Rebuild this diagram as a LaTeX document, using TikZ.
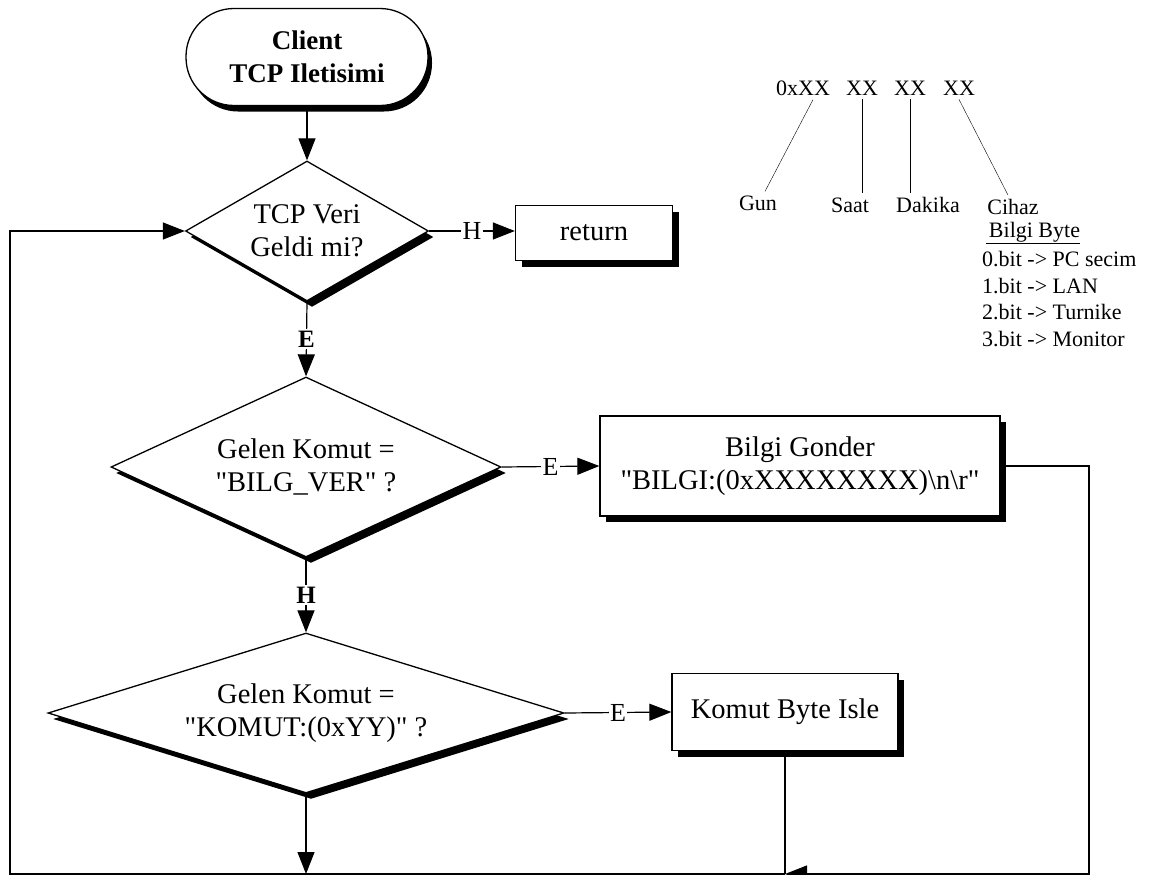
\documentclass[tikz,border=0pt]{standalone}
\usepackage{fontspec}
\setmainfont{Liberation Serif}[Ligatures=TeXOff]
\usetikzlibrary{positioning, calc}
\usetikzlibrary{shapes.geometric, shadows, arrows.meta}

\begin{document}
\begin{tikzpicture}[x=1pt, y=-1pt,
		every node/.style={font=\fontsize{28.5}{33}\selectfont},
		golge/.style={drop shadow={shadow xshift=#1, shadow yshift=-6pt, fill=black, opacity=1}},
		basla/.style={draw, fill=white, line width=1.3pt, rounded corners=48pt, align=center,
			minimum width=242pt, minimum height=97pt, golge=4pt,
			font=\bfseries\fontsize{27}{33}\selectfont},
		kutu/.style={draw, fill=white, line width=1.3pt, align=center, inner sep=0pt, golge=6pt},
		karar/.style={draw, fill=white, diamond, line width=1.3pt, align=center, inner sep=0pt, golge=5pt},
		ok/.style={-{Triangle[length=22pt, width=17pt]}, line width=1.2pt},
		etiket/.style={fill=white, inner sep=1.5pt, font=\fontsize{26}{26}\selectfont},
		kalin etiket/.style={etiket, font=\bfseries\fontsize{25}{25}\selectfont},
		aciklama/.style={inner sep=4pt, font=\fontsize{22}{26.7}\selectfont}]
			\useasboundingbox (0,0) rectangle (1151,875);
			\node (basla) [basla] at (307,57) {Client\\TCP Iletisimi};
			\node (k1) [karar, minimum width=243pt, minimum height=140pt, aspect=1.74] at (307,231) {TCP Veri\\Geldi mi?};
			\node (don) [kutu, minimum width=157pt, minimum height=55pt] at (594,233) {return};
			\node (k2) [karar, minimum width=390pt, minimum height=180pt, aspect=2.17] at (306,467) {Gelen Komut =\\"BILG\_VER" ?};
			\node (bilgi) [kutu, minimum width=400pt, minimum height=100pt] at (800,466) {Bilgi Gonder\\"BILGI:(0xXXXXXXXX)\textbackslash n\textbackslash r"};
			\node (k3) [karar, minimum width=516pt, minimum height=160pt, aspect=3.2] at (306,713) {Gelen Komut =\\"KOMUT:(0xYY)" ?};
			\node (komut) [kutu, minimum width=226pt, minimum height=77pt] at (785,712) {Komut Byte Isle};
			\coordinate (sol) at (10,874);
			\coordinate (sag) at (1089,874);

			\draw [ok] (basla) -- (k1);
			\draw [ok] (k1.east) -- node [etiket] {H} (k1.east -| don.west);
			\draw [ok] (k1.south) -- node [kalin etiket] {E} (k2.north);
			\draw [ok] (k2.east) -- node [etiket] {E} (bilgi.west);
			\draw [ok] (k2.south) -- node [kalin etiket] {H} (k3.north);
			\draw [ok] (k3.east) -- node [etiket] {E} (komut.west);
			\draw [ok] (k3.south) -- (k3.south |- sol);
			\draw [ok] (bilgi.east) -| (sag) -- (komut.south |- sol);
			\draw [line width=1.2pt] (komut.south) -- (komut.south |- sol);
			\draw [ok] (komut.south |- sol) -- (sol) |- (k1.west);

			\node (b0) [aciklama] at (803,88) {0xXX};
			\node (b1) [aciklama] at (862,88) {XX};
			\node (b2) [aciklama] at (910,88) {XX};
			\node (b3) [aciklama] at (959,88) {XX};
			\node (gun) [aciklama] at (758,203) {Gun};
			\node (saat) [aciklama] at (850,205) {Saat};
			\node (dakika) [aciklama] at (928,205) {Dakika};
			\node (cihaz) [aciklama] at (1013,207) {Cihaz};
			\node (byte) [aciklama] at (1033,233) {\underline{\hspace{3pt}Bilgi Byte}};
			\node (bitler) [aciklama, align=left, anchor=north west] at (978,247) {0.bit -> PC secim\\1.bit -> LAN\\2.bit -> Turnike\\3.bit -> Monitor};
			\draw ([xshift=10pt]b0.south) -- ([xshift=7pt]gun.north);
			\draw (b1.south) -- (b1.south |- saat.north);
			\draw (b2.south) -- (b2.south |- dakika.north);
			\draw (b3.south) -- ([xshift=-5pt]cihaz.north);
		\end{tikzpicture}
\end{document}
